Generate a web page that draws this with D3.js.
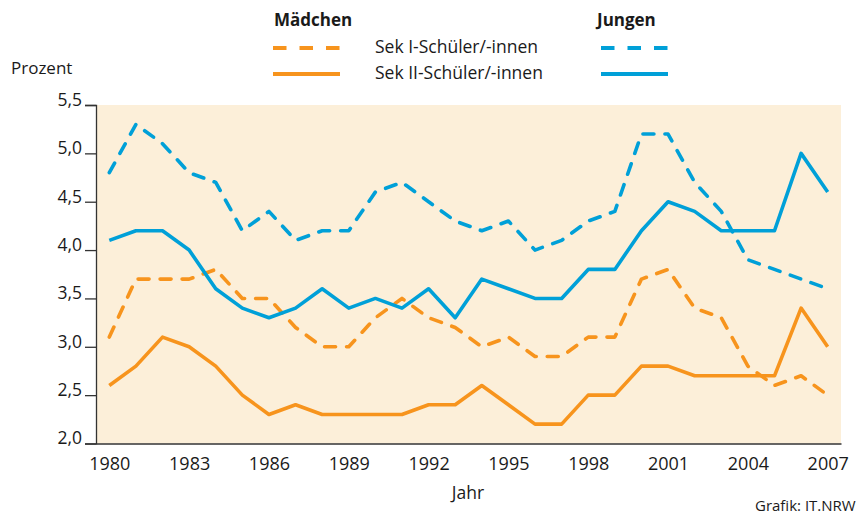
<!DOCTYPE html>
<html>
<head>
<meta charset="utf-8">
<script src="https://cdn.jsdelivr.net/npm/d3@7"></script>
<style>
  body { margin: 0; background: #fff; }
  svg text { font-family: "Open Sans", sans-serif; fill: #1a1a1a; }
</style>
</head>
<body>
<div id="chart"></div>
<script>
const width = 861,
    height = 514;

// Daten (Prozent)
const years = d3.range(1980, 2008);
const maedchenSek1 = [3.1, 3.7, 3.7, 3.7, 3.8, 3.5, 3.5, 3.2, 3.0, 3.0, 3.3, 3.5, 3.3, 3.2, 3.0, 3.1, 2.9, 2.9, 3.1, 3.1, 3.7, 3.8, 3.4, 3.3, 2.8, 2.6, 2.7, 2.5];
const maedchenSek2 = [2.6, 2.8, 3.1, 3.0, 2.8, 2.5, 2.3, 2.4, 2.3, 2.3, 2.3, 2.3, 2.4, 2.4, 2.6, 2.4, 2.2, 2.2, 2.5, 2.5, 2.8, 2.8, 2.7, 2.7, 2.7, 2.7, 3.4, 3.0];
const jungenSek1 = [4.8, 5.3, 5.1, 4.8, 4.7, 4.2, 4.4, 4.1, 4.2, 4.2, 4.6, 4.7, 4.5, 4.3, 4.2, 4.3, 4.0, 4.1, 4.3, 4.4, 5.2, 5.2, 4.7, 4.4, 3.9, 3.8, 3.7, 3.6];
const jungenSek2 = [4.1, 4.2, 4.2, 4.0, 3.6, 3.4, 3.3, 3.4, 3.6, 3.4, 3.5, 3.4, 3.6, 3.3, 3.7, 3.6, 3.5, 3.5, 3.8, 3.8, 4.2, 4.5, 4.4, 4.2, 4.2, 4.2, 5.0, 4.6];
const xTicks = [1980, 1983, 1986, 1989, 1992, 1995, 1998, 2001, 2004, 2007];
const yTicks = [2.0, 2.5, 3.0, 3.5, 4.0, 4.5, 5.0, 5.5];

const orange = "#f7941d",
    blue = "#00a0d8";

const series = [
    { values: maedchenSek1, color: orange, dashed: true },
    { values: maedchenSek2, color: orange, dashed: false },
    { values: jungenSek1, color: blue, dashed: true },
    { values: jungenSek2, color: blue, dashed: false }
];

const svg = d3.select("#chart")
    .append("svg")
    .attr("width", width)
    .attr("height", height);

const x = d3.scaleLinear()
    .domain([1979.5, 2007.5])
    .range([96, 841]);

const y = d3.scaleLinear()
    .domain([2, 5.5])
    .range([443.5, 105]);

// Hintergrund
svg.append("rect")
    .attr("x", x(1979.5))
    .attr("y", y(5.5))
    .attr("width", x(2007.5) - x(1979.5))
    .attr("height", y(2) - y(5.5))
    .attr("fill", "#fcefd9");

// y-Achse
const yAxis = svg.append("g")
    .attr("transform", `translate(${x(1979.5)},0)`)
    .call(d3.axisLeft(y)
        .tickValues(yTicks)
        .tickSize(11)
        .tickPadding(3)
        .tickFormat(d => d3.format(".1f")(d).replace(".", ",")));

yAxis.select(".domain").attr("stroke", "#333").attr("stroke-width", 1.3);
yAxis.selectAll(".tick line").attr("stroke", "#333").attr("stroke-width", 1.3);
yAxis.selectAll("text")
    .style("font-size", "17.5px")
    .attr("dy", "0.02em")
    .attr("fill", "#1a1a1a");

// x-Achse
const xAxis = svg.append("g")
    .attr("transform", `translate(0,${y(2)})`)
    .call(d3.axisBottom(x)
        .tickValues(xTicks)
        .tickSize(0)
        .tickPadding(14)
        .tickFormat(d3.format("d")));

xAxis.select(".domain").attr("stroke", "#333").attr("stroke-width", 1.3);
xAxis.selectAll("text")
    .style("font-size", "18px")
    .attr("fill", "#1a1a1a");

// Linien
const line = d3.line()
    .x((d, i) => x(years[i]))
    .y(d => y(d));

svg.selectAll("path.series")
    .data(series)
    .join("path")
    .attr("class", "series")
    .attr("d", d => line(d.values))
    .attr("fill", "none")
    .attr("stroke", d => d.color)
    .attr("stroke-width", 3.6)
    .attr("stroke-linejoin", "round")
    .attr("stroke-linecap", d => d.dashed ? "round" : "butt")
    .attr("stroke-dasharray", d => d.dashed ? "11,11" : null);

// Achsentitel
svg.append("text")
    .text("Prozent")
    .attr("x", 11)
    .attr("y", 74)
    .style("font-size", "17px");

svg.append("text")
    .text("Jahr")
    .attr("x", 468)
    .attr("y", 499)
    .attr("text-anchor", "middle")
    .style("font-size", "17.5px");

svg.append("text")
    .text("Grafik: IT.NRW")
    .attr("x", 755)
    .attr("y", 511)
    .style("font-size", "15px");

// Legende
const legend = svg.append("g");

legend.append("text")
    .text("Mädchen")
    .attr("x", 274)
    .attr("y", 26)
    .style("font-size", "17px")
    .style("font-weight", "bold");

legend.append("text")
    .text("Jungen")
    .attr("x", 597)
    .attr("y", 26)
    .style("font-size", "17px")
    .style("font-weight", "bold");

const legendRows = [
    { label: "Sek I-Schüler/-innen", dashed: true, ly: 48 },
    { label: "Sek II-Schüler/-innen", dashed: false, ly: 74 }
];

legendRows.forEach(r => {
    [[273, 340, orange], [601, 668, blue]].forEach(([x1, x2, c]) => {
        legend.append("line")
            .attr("x1", x1)
            .attr("x2", x2)
            .attr("y1", r.ly)
            .attr("y2", r.ly)
            .attr("stroke", c)
            .attr("stroke-width", 4)
            .attr("stroke-dasharray", r.dashed ? "13.5,13" : null);
    });
    legend.append("text")
        .text(r.label)
        .attr("x", 375)
        .attr("y", r.ly + 5)
        .style("font-size", "17.5px");
});
</script>
</body>
</html>
